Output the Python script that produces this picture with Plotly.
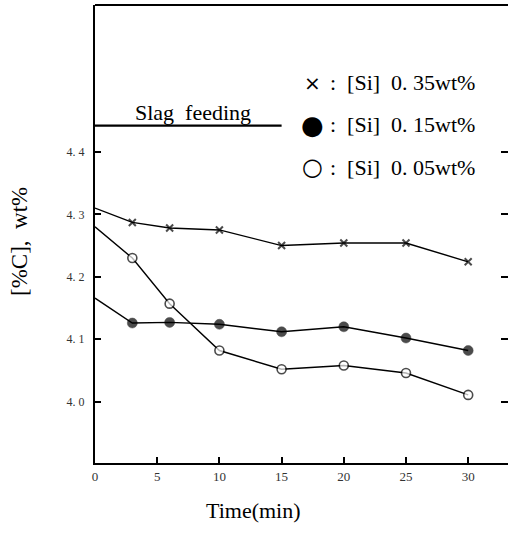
import plotly.graph_objects as go

# Data
time_min = [0, 3, 6, 10, 15, 20, 25, 30]
c_si035 = [4.31, 4.287, 4.278, 4.275, 4.250, 4.254, 4.254, 4.224]
c_si015 = [4.166, 4.126, 4.127, 4.124, 4.112, 4.120, 4.102, 4.082]
c_si005 = [4.280, 4.230, 4.157, 4.082, 4.052, 4.058, 4.046, 4.011]

slag_x = [0, 15]
slag_y = [4.442, 4.442]

x_ticks = [0, 5, 10, 15, 20, 25, 30]
y_ticks = [4.0, 4.1, 4.2, 4.3, 4.4]
y_ticktext = ["4. 0", "4. 1", "4. 2", "4. 3", "4. 4"]

legend_symbols = ["×", "●", "○"]
legend_labels = [":  [Si]  0. 35wt%", ":  [Si]  0. 15wt%", ":  [Si]  0. 05wt%"]

FONT = "Liberation Serif"
X_RANGE = [0, 33.2]
Y_RANGE = [3.902, 4.635]

fig = go.Figure()

def sizes(n, s):
    return [0] + [s] * (n - 1)

fig.add_trace(go.Scatter(
    x=time_min, y=c_si035, mode="lines+markers",
    line=dict(color="black", width=1.4),
    marker=dict(symbol="x-thin", size=sizes(len(time_min), 7),
                line=dict(color="black", width=2), color="black"),
    showlegend=False))

fig.add_trace(go.Scatter(
    x=time_min, y=c_si015, mode="lines+markers",
    line=dict(color="black", width=1.4),
    marker=dict(symbol="circle", size=sizes(len(time_min), 10), color="black",
                line=dict(color="black", width=0.5)),
    showlegend=False))

fig.add_trace(go.Scatter(
    x=time_min, y=c_si005, mode="lines+markers",
    line=dict(color="black", width=1.4),
    marker=dict(symbol="circle", size=sizes(len(time_min), 9), color="white",
                line=dict(color="black", width=1.6)),
    showlegend=False))

fig.add_trace(go.Scatter(
    x=slag_x, y=slag_y, mode="lines",
    line=dict(color="black", width=2.2), showlegend=False))

# invisible trace for right mirror ticks
fig.add_trace(go.Scatter(x=[None], y=[None], yaxis="y2", showlegend=False))

W, H = 508, 534
L, R, T, B = 95, 0, 5, 71
pw, ph = W - L - R, H - T - B

def px(xp):
    return (xp - L) / pw

def py(yp):
    return (H - B - yp) / ph

fig.update_layout(
    width=W, height=H,
    margin=dict(l=L, r=R, t=T, b=B),
    paper_bgcolor="white", plot_bgcolor="white",
    font=dict(family=FONT, color="black"),
    xaxis=dict(range=X_RANGE, tickvals=x_ticks, ticks="inside", ticklen=6,
               tickwidth=1.5, tickcolor="black", showline=True, linecolor="black",
               linewidth=2, showgrid=False, zeroline=False,
               tickfont=dict(size=13, family=FONT, color="#333"), mirror=False),
    yaxis=dict(range=Y_RANGE, tickvals=y_ticks, ticktext=y_ticktext,
               ticks="inside", ticklen=6, tickwidth=1.5, tickcolor="black",
               showline=True, linecolor="black", linewidth=2, showgrid=False,
               zeroline=False, tickfont=dict(size=12, family=FONT, color="#333"),
               ticklabelstandoff=6),
    yaxis2=dict(range=Y_RANGE, tickvals=y_ticks, overlaying="y", side="right",
                ticks="inside", ticklen=7, tickwidth=1.5, tickcolor="black",
                showline=False, showgrid=False, zeroline=False,
                showticklabels=False),
    shapes=[dict(type="line", xref="paper", yref="paper", x0=0, x1=1, y0=1, y1=1,
                 line=dict(color="black", width=2))],
)

annotations = [
    dict(text="Slag  feeding", x=px(193), y=py(112), xref="paper", yref="paper",
         showarrow=False, xanchor="center", yanchor="middle",
         font=dict(size=22, family=FONT)),
    dict(text="Time(min)", x=px(253), y=py(510), xref="paper", yref="paper",
         showarrow=False, xanchor="center", yanchor="middle",
         font=dict(size=22, family=FONT)),
    dict(text="[%C],  wt%", x=px(19), y=py(242), xref="paper", yref="paper",
         showarrow=False, xanchor="center", yanchor="middle", textangle=-90,
         font=dict(size=23, family=FONT)),
]
sym_sizes = [20, 26, 24]
for sym, ss, lab, yp in zip(legend_symbols, sym_sizes, legend_labels, [83, 125, 167]):
    annotations.append(dict(text=sym, x=px(312), y=py(yp), xref="paper", yref="paper",
                            showarrow=False, xanchor="center", yanchor="middle",
                            font=dict(size=ss, family="DejaVu Sans")))
    annotations.append(dict(text=lab, x=px(328), y=py(yp), xref="paper", yref="paper",
                            showarrow=False, xanchor="left", yanchor="middle",
                            font=dict(size=22, family=FONT)))
fig.update_layout(annotations=annotations)

fig.write_html("out.html")
